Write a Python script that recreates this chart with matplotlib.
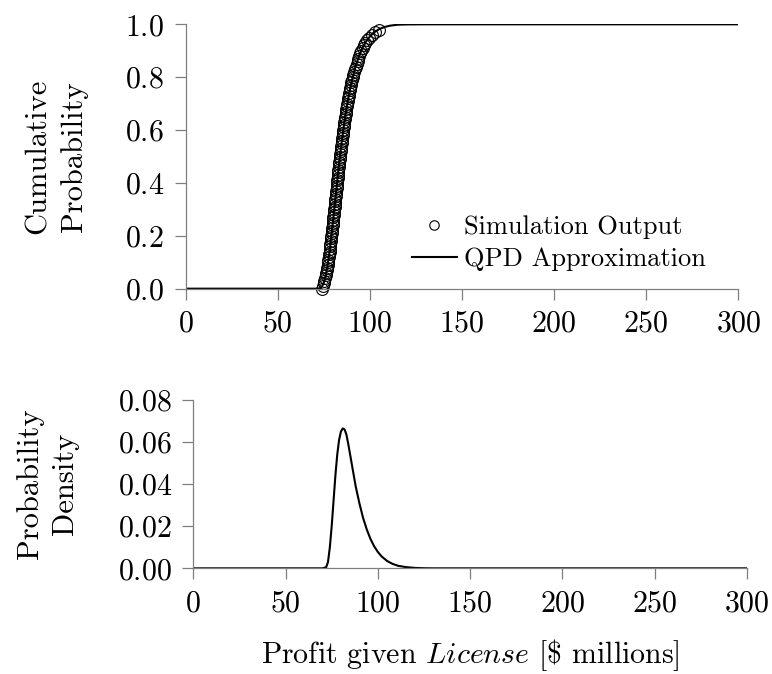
import numpy as np
import matplotlib
matplotlib.use('Agg')
import matplotlib.pyplot as plt

plt.rcParams['font.family'] = 'serif'
plt.rcParams['font.serif'] = ['cmr10']
plt.rcParams['mathtext.fontset'] = 'cm'
plt.rcParams['axes.formatter.use_mathtext'] = True
plt.rcParams['axes.unicode_minus'] = False

############################################
# simulation output (quantiles at probability levels 0.00 ... 0.98)
sim_p = [0.00, 0.01, 0.02, 0.03, 0.04, 0.05, 0.06, 0.07, 0.08, 0.09,
         0.10, 0.11, 0.12, 0.13, 0.14, 0.15, 0.16, 0.17, 0.18, 0.19,
         0.20, 0.21, 0.22, 0.23, 0.24, 0.25, 0.26, 0.27, 0.28, 0.29,
         0.30, 0.31, 0.32, 0.33, 0.34, 0.35, 0.36, 0.37, 0.38, 0.39,
         0.40, 0.41, 0.42, 0.43, 0.44, 0.45, 0.46, 0.47, 0.48, 0.49,
         0.50, 0.51, 0.52, 0.53, 0.54, 0.55, 0.56, 0.57, 0.58, 0.59,
         0.60, 0.61, 0.62, 0.63, 0.64, 0.65, 0.66, 0.67, 0.68, 0.69,
         0.70, 0.71, 0.72, 0.73, 0.74, 0.75, 0.76, 0.77, 0.78, 0.79,
         0.80, 0.81, 0.82, 0.83, 0.84, 0.85, 0.86, 0.87, 0.88, 0.89,
         0.90, 0.91, 0.92, 0.93, 0.94, 0.95, 0.96, 0.97, 0.98]
sim_x = [74.2, 74.6, 75.0, 75.3, 75.6, 76.0, 76.3, 76.5, 76.8, 77.0,
         77.3, 77.5, 77.7, 77.9, 78.1, 78.2, 78.4, 78.6, 78.8, 78.9,
         79.1, 79.3, 79.4, 79.6, 79.8, 80.0, 80.0, 80.2, 80.3, 80.5,
         80.7, 80.8, 81.0, 81.1, 81.3, 81.4, 81.6, 81.7, 81.9, 82.0,
         82.2, 82.3, 82.5, 82.6, 82.8, 82.9, 83.1, 83.3, 83.4, 83.6,
         83.8, 83.9, 84.1, 84.3, 84.4, 84.6, 84.8, 84.9, 85.2, 85.4,
         85.5, 85.8, 86.0, 86.2, 86.4, 86.6, 86.8, 86.9, 87.2, 87.5,
         87.7, 88.0, 88.3, 88.6, 88.8, 89.1, 89.4, 89.7, 90.0, 90.3,
         90.7, 91.1, 91.5, 91.9, 92.4, 92.8, 93.3, 93.8, 94.3, 94.9,
         95.3, 96.0, 96.7, 97.5, 98.4, 99.5, 101.0, 102.6, 105.0]

# QPD approximation, cumulative
cdf_x = [0, 70, 72, 73, 74, 75, 76, 77, 78, 79, 80, 81, 82, 83, 84, 85, 86,
         87, 88, 89, 90, 92, 94, 96, 98, 100, 102, 105, 108, 111, 115, 120,
         130, 300]
cdf_y = [0.0, 0.0, 0.0002, 0.002, 0.0085, 0.0235, 0.0495, 0.0875, 0.1365,
         0.194, 0.257, 0.323, 0.389, 0.454, 0.515, 0.572, 0.623, 0.670,
         0.711, 0.748, 0.781, 0.836, 0.879, 0.911, 0.936, 0.954, 0.968,
         0.982, 0.990, 0.995, 0.9985, 0.9996, 1.0, 1.0]

# QPD approximation, density
pdf_x = [0, 70, 72, 73, 74, 75, 76, 77, 78, 79, 80, 81, 82, 83, 84, 85, 86,
         87, 88, 89, 90, 92, 94, 96, 98, 100, 102, 105, 108, 111, 115, 120,
         125, 130, 300]
pdf_y = [0.0, 0.0, 0.0005, 0.003, 0.010, 0.020, 0.032, 0.044, 0.054, 0.061,
         0.065, 0.0665, 0.066, 0.0635, 0.059, 0.054, 0.049, 0.044, 0.039,
         0.035, 0.031, 0.024, 0.0185, 0.014, 0.0105, 0.0078, 0.0057, 0.0035,
         0.0021, 0.0012, 0.0006, 0.0002, 0.00005, 0.0, 0.0]
############################################

fig = plt.figure(figsize=(7.72, 6.74), dpi=100)
ax1 = fig.add_axes([0.2405, 0.5717, 0.7159, 0.3922])
ax2 = fig.add_axes([0.2504, 0.1568, 0.7170, 0.2497])

for ax in (ax1, ax2):
    for s in ('top', 'right'):
        ax.spines[s].set_visible(False)
    for s in ('left', 'bottom'):
        ax.spines[s].set_color('#7f7f7f')
        ax.spines[s].set_linewidth(0.9)
    ax.tick_params(direction='out', length=8, width=0.9, color='#7f7f7f',
                   labelsize=21.5, pad=7.5)
    ax.set_xlim(0, 300)
    ax.set_xticks([0, 50, 100, 150, 200, 250, 300])

ax1.plot(sim_x, sim_p, 'o', mfc='none', mec='k', ms=8.5, mew=0.8,
         clip_on=False, label='Simulation Output')
ax1.plot(cdf_x, cdf_y, 'k-', lw=1.5, label='QPD Approximation')
ax1.set_ylim(0, 1)
ax1.set_yticks([0, 0.2, 0.4, 0.6, 0.8, 1.0])
ax1.set_ylabel('Cumulative\nProbability', fontsize=22, linespacing=1.35)
ax1.yaxis.set_label_coords(-0.177, 0.5)
ax1.legend(loc='lower right', bbox_to_anchor=(0.966, 0.017), frameon=False,
           fontsize=19, handlelength=1.7, handletextpad=0.3,
           labelspacing=0.3, borderpad=0, markerscale=0.8)

ax2.plot(pdf_x, pdf_y, 'k-', lw=1.5)
ax2.set_ylim(0, 0.08)
ax2.set_yticks([0, 0.02, 0.04, 0.06, 0.08])
ax2.set_ylabel('Probability\nDensity', fontsize=22, linespacing=1.35)
ax2.yaxis.set_label_coords(-0.207, 0.5)
ax2.set_xlabel(r'Profit given $\mathit{License}$ [\$ millions]', fontsize=21.5)
ax2.xaxis.set_label_coords(0.5, -0.41)

plt.savefig('out.png', dpi=100)
